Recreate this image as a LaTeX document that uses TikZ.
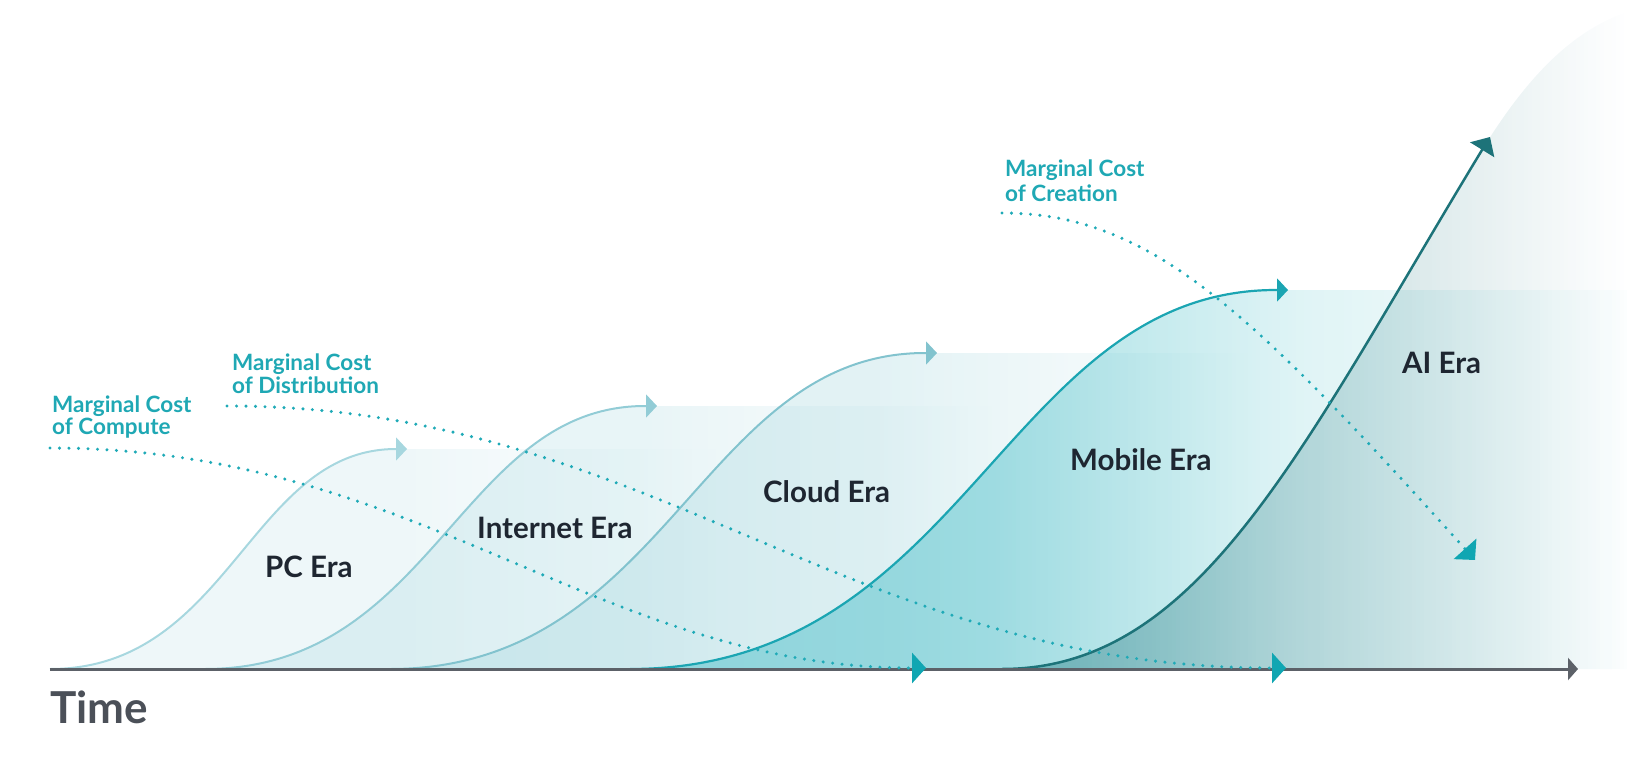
\documentclass[tikz,border=0pt]{standalone}
\usepackage{fontspec}
\setmainfont{Lato}
\usetikzlibrary{arrows.meta}
\definecolor{pcS}{HTML}{A7D7DF}
\definecolor{inS}{HTML}{92CCD6}
\definecolor{clS}{HTML}{82C3CE}
\definecolor{moS}{HTML}{1BA5B2}
\definecolor{aiS}{HTML}{1D7379}
\definecolor{lightF}{HTML}{8CCBD5}
\definecolor{moF}{HTML}{22B1BD}
\definecolor{aiF}{HTML}{2A7D84}
\definecolor{dotC}{HTML}{1FAAB7}
\definecolor{headC}{HTML}{10A6B2}
\definecolor{labelC}{HTML}{1FA8B4}
\definecolor{eraC}{HTML}{1E2631}
\definecolor{timeC}{HTML}{4B5058}
\definecolor{axisC}{HTML}{5C6168}
\begin{document}
\begin{tikzpicture}[x=1pt,y=-1pt,
  eracurve/.style={draw=#1, line width=2pt, -{Triangle[length=11pt,width=23pt]}},
  dotline/.style={draw=dotC, line width=3.4pt, line cap=round, dash pattern=on 0pt off 9.5pt,
     -{Triangle[length=14pt,width=30pt,fill=headC,color=headC]}},
  axisline/.style={draw=axisC, line width=3pt, -{Triangle[length=10pt,width=22pt]}},
  eralabel/.style={anchor=base west, inner sep=0pt, text=eraC, font=\fontsize{29.5}{34}\selectfont\bfseries},
  costlabel/.style={anchor=base west, inner sep=0pt, text=labelC, font=\fontsize{22.5}{26}\selectfont\bfseries},
  timelabel/.style={anchor=base west, inner sep=0pt, text=timeC, font=\fontsize{44}{50}\selectfont\bfseries}]
\useasboundingbox (0,0) rectangle (1627,770);

% key points
\coordinate (ax0) at (50,669);  \coordinate (ax1) at (1578,669);
\coordinate (pc0) at (50,669);  \coordinate (pc1) at (396,449); \coordinate (pcT) at (407,449);
\coordinate (in0) at (205,669); \coordinate (in1) at (645,406); \coordinate (inT) at (657,406);
\coordinate (cl0) at (390,669); \coordinate (cl1) at (925,353); \coordinate (clT) at (937,353);
\coordinate (mo0) at (630,669); \coordinate (mo1) at (1276,290); \coordinate (moT) at (1288,290);
\coordinate (ai0) at (1002,669); \coordinate (ai1) at (1482,150); \coordinate (aiT) at (1490,137);
\coordinate (cmpS) at (50,448);  \coordinate (cmpE) at (926,668);
\coordinate (dstS) at (227,406); \coordinate (dstE) at (1286,668);
\coordinate (crtS) at (1002,213); \coordinate (crtE) at (1475,560);

% ---- era regions: translucent fills that fade out to the right ----
% PC
\begin{scope}
  \clip (pc0) .. controls (230,669) and (250,449) .. (pc1) -- (1627,449) -- (1627,669) -- cycle;
  \fill[lightF, fill opacity=0.15] (40,440) rectangle (400,670);
  \foreach \xx in {400,404,...,716} {
    \pgfmathsetmacro{\op}{0.15*(720-\xx-2)/320}
    \fill[lightF, fill opacity=\op] (\xx,440) rectangle (\xx+4,670);
  }
\end{scope}
% Internet
\begin{scope}
  \clip (in0) .. controls (434,669) and (460,406) .. (in1) -- (1627,406) -- (1627,669) -- cycle;
  \fill[lightF, fill opacity=0.20] (200,400) rectangle (640,670);
  \foreach \xx in {640,644,...,996} {
    \pgfmathsetmacro{\op}{0.20*(1000-\xx-2)/360}
    \fill[lightF, fill opacity=\op] (\xx,400) rectangle (\xx+4,670);
  }
\end{scope}
% Cloud
\begin{scope}
  \clip (cl0) .. controls (668,669) and (700,353) .. (cl1) -- (1627,353) -- (1627,669) -- cycle;
  \fill[lightF, fill opacity=0.25] (380,350) rectangle (880,670);
  \foreach \xx in {880,884,...,1248} {
    \pgfmathsetmacro{\op}{0.25*(1252-\xx-2)/372}
    \fill[lightF, fill opacity=\op] (\xx,350) rectangle (\xx+4,670);
  }
\end{scope}
% Mobile
\begin{scope}
  \clip (mo0) .. controls (966,669) and (1005,290) .. (mo1) -- (1627,290) -- (1627,669) -- cycle;
  \fill[moF, fill opacity=0.38] (620,285) rectangle (1000,670);
  \foreach \xx in {1000,1004,...,1624} {
    \pgfmathsetmacro{\op}{0.38*ifthenelse(\xx<1300, 1-0.62*(\xx+2-1000)/300, 0.38-0.34*(\xx+2-1300)/327)}
    \fill[moF, fill opacity=\op] (\xx,285) rectangle (\xx+4,670);
  }
\end{scope}
% AI
\begin{scope}
  \clip (ai0) .. controls (1200,669) and (1300,450) .. (ai1) .. controls (1530,72) and (1575,30) .. (1627,12) -- (1627,669) -- cycle;
  \fill[aiF, fill opacity=0.42] (1000,0) rectangle (1080,670);
  \foreach \xx in {1080,1084,...,1624} {
    \pgfmathsetmacro{\op}{0.42*(1628-\xx-2)/548}
    \fill[aiF, fill opacity=\op] (\xx,0) rectangle (\xx+4,670);
  }
\end{scope}

% era curves
\draw[eracurve=pcS] (pc0) .. controls (230,669) and (250,449) .. (pc1) -- (pcT);
\draw[eracurve=inS] (in0) .. controls (434,669) and (460,406) .. (in1) -- (inT);
\draw[eracurve=clS] (cl0) .. controls (668,669) and (700,353) .. (cl1) -- (clT);
\draw[eracurve=moS, line width=2.2pt] (mo0) .. controls (966,669) and (1005,290) .. (mo1) -- (moT);
\draw[draw=aiS, line width=2.5pt, -{Triangle[length=15pt,width=28pt]}] (ai0) .. controls (1200,669) and (1300,450) .. (ai1) -- (aiT);

% time axis
\draw[axisline] (ax0) -- (ax1);

% marginal cost curves
\draw[dotline] (cmpS) .. controls (420,448) and (600,668) .. (cmpE);
\draw[dotline] (dstS) .. controls (650,406) and (850,668) .. (dstE);
\draw[dotline, -{Triangle[length=15pt,width=30pt,fill=headC,color=headC]}] (crtS) .. controls (1150,213) and (1250,310) .. (crtE);

% labels
\node[timelabel] (time) at (50,723) {Time};
\node[eralabel] (pc) at (265,577) {PC Era};
\node[eralabel] (inet) at (477,538) {Internet Era};
\node[eralabel] (cloud) at (763,502) {Cloud Era};
\node[eralabel] (mobile) at (1070,470) {Mobile Era};
\node[eralabel] (ai) at (1402,373) {AI Era};
\node[costlabel] (cmpA) at (52,412) {Marginal Cost};
\node[costlabel] (cmpB) at (52,434) {of Compute};
\node[costlabel] (dstA) at (232,370) {Marginal Cost};
\node[costlabel] (dstB) at (232,393) {of Distribution};
\node[costlabel] (crtA) at (1005,177) {Marginal Cost};
\node[costlabel] (crtB) at (1005,201) {of Creation};
\end{tikzpicture}
\end{document}
